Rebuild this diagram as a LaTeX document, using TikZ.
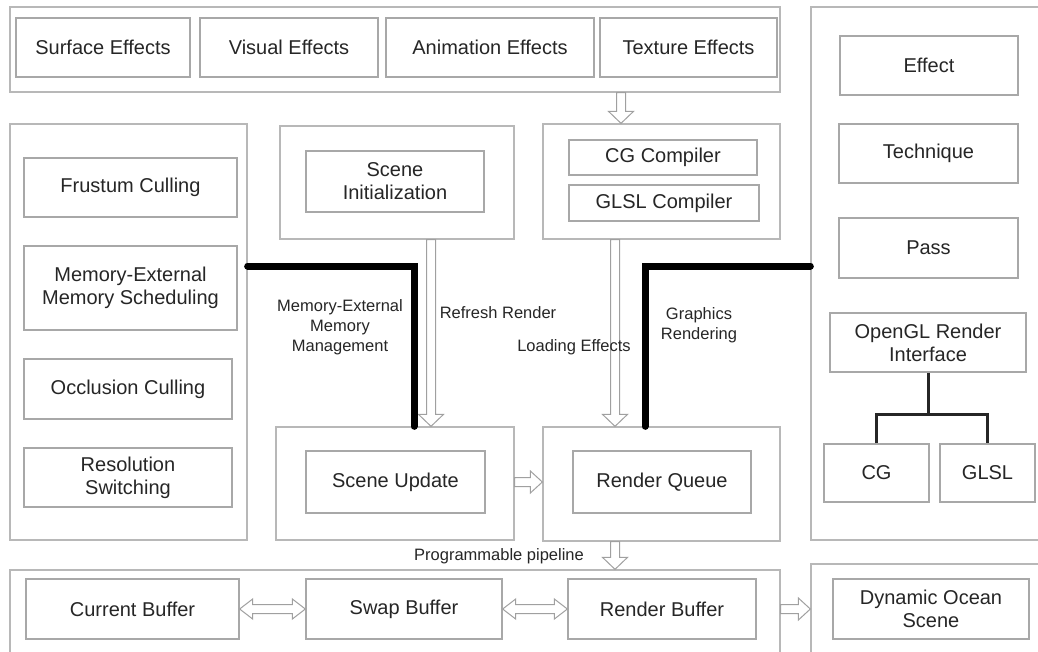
\documentclass[tikz,border=0pt]{standalone}
\usepackage{fontspec}
\setmainfont{Liberation Sans}
\usetikzlibrary{calc}
\definecolor{ink}{HTML}{262626}
\definecolor{frame}{HTML}{B8B8B8}
\definecolor{edge}{HTML}{A8A8A8}
\definecolor{hollowc}{HTML}{A0A0A0}
\tikzset{
  panel/.style={draw=frame, line width=1.3pt, inner sep=0pt},
  box/.style={draw=edge, line width=1.3pt, text=ink, align=center, inner sep=0pt,
    font=\fontsize{20}{23}\selectfont},
  lbl/.style={text=ink, align=center, inner sep=0pt, font=\fontsize{16.5}{20}\selectfont},
  hollow/.style={draw=hollowc, fill=white, line width=1pt, line join=miter},
  heavy/.style={draw=black, line width=7pt, line cap=round},
  tree/.style={draw=ink, line width=3pt},
}
% hollow block arrows between two anchors
\newcommand\arrdown[2]{\draw[hollow] let \p1=(#1), \p2=(#2) in
  ({\x1-4.5pt},\y1) -- ({\x1-4.5pt},{\y2+12pt}) -- ({\x1-12.5pt},{\y2+12pt}) -- (\x1,\y2)
  -- ({\x1+12.5pt},{\y2+12pt}) -- ({\x1+4.5pt},{\y2+12pt}) -- ({\x1+4.5pt},\y1) -- cycle;}
\newcommand\arrright[2]{\draw[hollow] let \p1=(#1), \p2=(#2) in
  (\x1,{\y1+4.5pt}) -- ({\x2-12pt},{\y1+4.5pt}) -- ({\x2-12pt},{\y1+11pt}) -- (\x2,\y1)
  -- ({\x2-12pt},{\y1-11pt}) -- ({\x2-12pt},{\y1-4.5pt}) -- (\x1,{\y1-4.5pt}) -- cycle;}
\newcommand\arrboth[2]{\draw[hollow] let \p1=(#1), \p2=(#2) in
  (\x1,\y1) -- ({\x1+13pt},{\y1+10pt}) -- ({\x1+13pt},{\y1+4.5pt}) -- ({\x2-13pt},{\y1+4.5pt})
  -- ({\x2-13pt},{\y1+10pt}) -- (\x2,\y1) -- ({\x2-13pt},{\y1-10pt}) -- ({\x2-13pt},{\y1-4.5pt})
  -- ({\x1+13pt},{\y1-4.5pt}) -- ({\x1+13pt},{\y1-10pt}) -- cycle;}

\begin{document}
\begin{tikzpicture}[x=1pt, y=-1pt]
\path[use as bounding box, clip] (0,0) rectangle (1038,651);
\fill[white] (0,0) rectangle (1038,651);

% ---- panels ----
\node[panel, minimum width=770pt, minimum height=85pt] (toppan) at (395,49.5) {};
\node[panel, minimum width=249pt, minimum height=533pt] (rpan) at (935.5,273.5) {};
\node[panel, minimum width=237pt, minimum height=416pt] (lpan) at (128.5,332) {};
\node[panel, minimum width=234pt, minimum height=113pt] (initout) at (397,182.5) {};
\node[panel, minimum width=237pt, minimum height=115pt] (compout) at (661.5,181.5) {};
\node[panel, minimum width=238pt, minimum height=113pt] (updout) at (395,483.5) {};
\node[panel, minimum width=237pt, minimum height=114pt] (queueout) at (661.5,484) {};
\node[panel, minimum width=770pt, minimum height=120pt] (bpan) at (395,630) {};
\node[panel, minimum width=249pt, minimum height=126pt] (opan) at (935.5,627) {};

% ---- effect categories ----
\node[box, minimum width=174pt, minimum height=59pt] (surf) at (103,47.5) {Surface Effects};
\node[box, minimum width=178pt, minimum height=59pt] (vis) at (289,47.5) {Visual Effects};
\node[box, minimum width=208pt, minimum height=59pt] (anim) at (490,47.5) {Animation Effects};
\node[box, minimum width=177pt, minimum height=59pt] (tex) at (688.5,47.5) {Texture Effects};

% ---- effect framework ----
\node[box, minimum width=178pt, minimum height=59pt] (eff) at (929,65.5) {Effect};
\node[box, minimum width=179pt, minimum height=59pt] (tech) at (928.5,153.5) {Technique};
\node[box, minimum width=179pt, minimum height=60pt] (pass) at (928.5,248) {Pass};
\node[box, minimum width=196pt, minimum height=59pt] (ogl) at (928,342.5) {OpenGL Render\\Interface};
\node[box, minimum width=105pt, minimum height=58pt] (cg) at (876.5,473) {CG};
\node[box, minimum width=95pt, minimum height=58pt] (glsl) at (987.5,473) {GLSL};
\draw[tree] (ogl.south) -- (928,414) coordinate (split);
\draw[tree] (cg.north) |- (split) -| (glsl.north);

% ---- culling and scheduling ----
\node[box, minimum width=213pt, minimum height=59pt] (frus) at (130.5,187.5) {Frustum Culling};
\node[box, minimum width=213pt, minimum height=84pt] (msched) at (130.5,288) {Memory-External\\Memory Scheduling};
\node[box, minimum width=208pt, minimum height=60pt] (occ) at (128,389) {Occlusion Culling};
\node[box, minimum width=208pt, minimum height=59pt] (res) at (128,477.5) {Resolution\\Switching};

% ---- scene and compilers ----
\node[box, minimum width=178pt, minimum height=61pt] (init) at (395,181.5) {Scene\\Initialization};
\node[box, minimum width=188pt, minimum height=35pt] (cgc) at (663,157.5) {CG Compiler};
\node[box, minimum width=190pt, minimum height=36pt] (glc) at (664,203) {GLSL Compiler};
\node[box, minimum width=179pt, minimum height=62pt] (upd) at (395.5,482) {Scene Update};
\node[box, minimum width=178pt, minimum height=62pt] (queue) at (662,482) {Render Queue};

% ---- buffers ----
\node[box, minimum width=213pt, minimum height=60pt] (cur) at (132.5,609) {Current Buffer};
\node[box, minimum width=196pt, minimum height=60pt] (swap) at (404,609) {Swap Buffer};
\node[box, minimum width=188pt, minimum height=60pt] (rbuf) at (662,609) {Render Buffer};
\node[box, minimum width=196pt, minimum height=60pt] (ocean) at (931,609) {Dynamic Ocean\\Scene};

% ---- block arrows ----
\coordinate (xa) at (621,0);
\coordinate (xr) at (431,0);
\coordinate (xl) at (615,0);
\arrdown{toppan.south -| xa}{compout.north -| xa}
\arrdown{initout.south -| xr}{updout.north -| xr}
\arrdown{compout.south -| xl}{queueout.north -| xl}
\arrdown{queueout.south -| xl}{bpan.north -| xl}
\arrright{updout.east |- upd.east}{queueout.west |- upd.east}
\arrboth{cur.east}{swap.west}
\arrboth{swap.east}{rbuf.west}
\arrright{bpan.east |- cur.east}{opan.west |- cur.east}

% ---- heavy links ----
\draw[heavy] (lpan.east |- 0,266) -| (updout.north -| 414,0);
\draw[heavy] (rpan.west |- 0,266) -| (queueout.north -| 645,0);

% ---- labels ----
\node[lbl] (lmem) at (340,327) {Memory-External\\Memory\\Management};
\node[lbl] (lref) at (498,313) {Refresh Render};
\node[lbl] (lload) at (574,347) {Loading Effects};
\node[lbl] (lgfx) at (699,325) {Graphics\\Rendering};
\node[lbl] (lprog) at (499,556) {Programmable pipeline};
\end{tikzpicture}
\end{document}
